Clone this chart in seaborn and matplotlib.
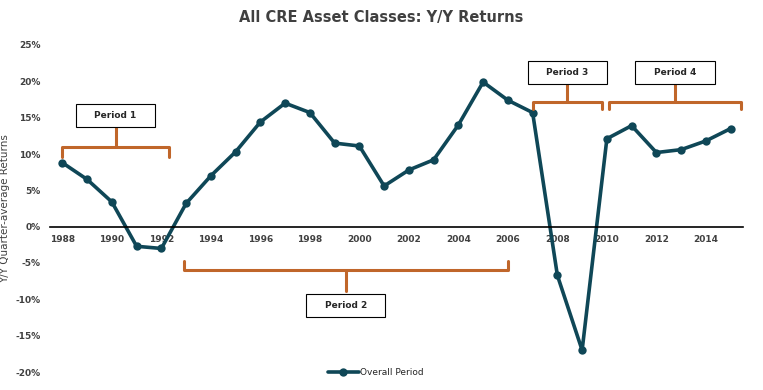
import matplotlib
matplotlib.use("Agg")
import matplotlib.pyplot as plt
from matplotlib.patches import Rectangle
import pandas as pd
import seaborn as sns

# data
years = list(range(1988, 2016))
returns = [8.8, 6.5, 3.4, -2.7, -3.0, 3.2, 7.0, 10.3, 14.4, 17.0, 15.7, 11.5, 11.1, 5.6,
           7.8, 9.2, 14.0, 19.9, 17.4, 15.7, -6.7, -17.0, 12.1, 13.9, 10.2, 10.6, 11.8, 13.5]
tick_years = list(range(1988, 2015, 2))
y_ticks = [25, 20, 15, 10, 5, 0, -5, -10, -15, -20]

df = pd.DataFrame({'Year': years, 'Return': returns})

sns.set_style('white')
plt.rcParams['font.family'] = ['DejaVu Sans']

line_col = '#0f4757'
brk_col = '#c0662a'
txt_col = '#404040'

fig = plt.figure(figsize=(7.63, 3.9), dpi=100)
ax = fig.add_axes([50/763, 18/390, 693/763, 327/390])

sns.lineplot(data=df, x='Year', y='Return', marker='o', color=line_col, linewidth=2.6,
             markersize=6, markeredgewidth=0, label='Overall Period', ax=ax)

ax.set_xlim(1987.5, 2015.5)
ax.set_ylim(-20, 25)
for s in ['top', 'right', 'left']:
    ax.spines[s].set_visible(False)
ax.spines['bottom'].set_position(('data', 0))
ax.spines['bottom'].set_color('black')
ax.spines['bottom'].set_linewidth(1.2)
ax.set_xticks(tick_years)
ax.set_xticklabels([str(y) for y in tick_years], fontsize=6.5, fontweight='bold', color=txt_col)
ax.tick_params(axis='x', length=0, pad=6)
ax.set_yticks(y_ticks)
ax.set_yticklabels([f'{v}%' for v in y_ticks], fontsize=6.5, fontweight='bold', color=txt_col)
ax.tick_params(axis='y', length=0, pad=7)
ax.set_xlabel('')
ax.set_ylabel('Y/Y Quarter-average Returns', fontsize=7.5, color=txt_col)
ax.yaxis.set_label_coords(-40/693, 0.5)

fig.suptitle('All CRE Asset Classes: Y/Y Returns', x=0.5, y=0.975, fontsize=10.5,
             fontweight='bold', color=txt_col)


def bracket(x0, x1, y, h, stem, label, box_y):
    xm = (x0 + x1) / 2
    ax.plot([x0, x0, x1, x1], [y - h, y, y, y - h], color=brk_col, lw=2.2,
            solid_joinstyle='round', clip_on=False)
    ax.plot([xm, xm], [y, y + stem], color=brk_col, lw=2.2, clip_on=False)
    bw, bh = 3.2, 3.15
    ax.add_patch(Rectangle((xm - bw / 2, box_y - bh / 2), bw, bh, fc='white', ec='black',
                           lw=0.8, clip_on=False, zorder=3))
    ax.text(xm, box_y, label, ha='center', va='center', fontsize=6.5, fontweight='bold',
            zorder=4, clip_on=False)


bracket(1988, 1992.3, 11.0, 1.4, 2.7, 'Period 1', 15.3)
bracket(1992.9, 2006.0, -5.9, -1.2, -2.9, 'Period 2', -10.8)
bracket(2007.0, 2009.8, 17.1, 0.9, 2.6, 'Period 3', 21.2)
bracket(2010.1, 2015.4, 17.1, 0.9, 2.6, 'Period 4', 21.2)

ax.legend(loc='lower center', bbox_to_anchor=(0.47, -0.04), frameon=False, fontsize=6.5,
          handlelength=3.5, handletextpad=0.1)

fig.savefig('out.png', dpi=100)
